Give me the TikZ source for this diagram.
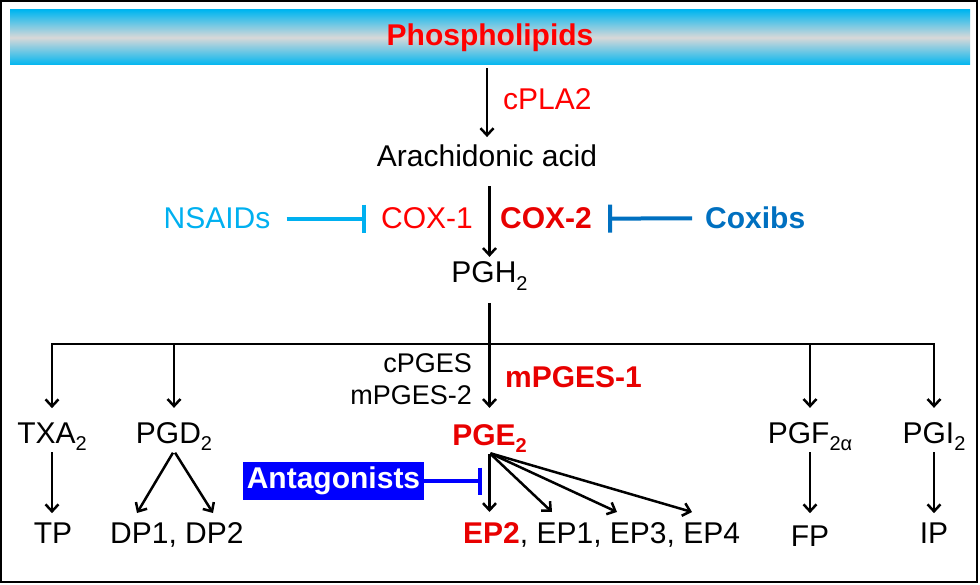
\documentclass[tikz,border=0pt]{standalone}
\usepackage{fontspec}
\setmainfont{Liberation Sans}
\usetikzlibrary{arrows.meta}
\definecolor{pred}{RGB}{255,0,0}
\definecolor{bred}{RGB}{232,0,0}
\definecolor{nsaidc}{RGB}{0,176,240}
\definecolor{coxc}{RGB}{0,112,192}
\definecolor{antc}{RGB}{0,0,255}
\definecolor{bannercyan}{RGB}{0,182,240}
\definecolor{bannergray}{RGB}{216,216,216}
\newcommand{\lowsub}[1]{\raisebox{-0.26em}{\fontsize{20}{20}\selectfont #1}}
\begin{document}
\begin{tikzpicture}[x=1pt,y=-1pt,
  lbl/.style={inner sep=0pt, font=\fontsize{30}{31}\selectfont},
  bl/.style={inner sep=0pt, font=\fontsize{30}{31}\selectfont\bfseries},
  sml/.style={inner sep=0pt, font=\fontsize{27}{28}\selectfont},
  arr/.style={line width=2.5pt, -{Straight Barb[length=7pt,width=13pt]}},
  plain/.style={line width=2.5pt},
  inh/.style={line width=4pt, -{Bar[width=28pt]}},
]
\useasboundingbox (0,0) rectangle (980,585);
\draw[line width=2pt] (1,1) rectangle (977,582);
\node[top color=bannercyan, bottom color=bannercyan, middle color=bannergray,
      minimum width=960pt, minimum height=55pt, inner sep=0pt, text=pred,
      font=\fontsize{30}{31}\selectfont\bfseries] (banner) at (490,37.5) {Phospholipids};

% top chain
\node[lbl, anchor=base west, text=pred] (cpla) at (503,110) {cPLA2};
\node[lbl, anchor=base] (aa) at (487,167) {Arachidonic acid};
\draw[arr, shorten <=3pt, shorten >=8pt] (banner.south -| aa.base) -- (aa.north);

\node[lbl, anchor=base] (pgh) at (489.5,283) {PGH\lowsub{2}};
\draw[arr, shorten <=19pt, shorten >=5pt] (aa.south -| pgh.north) -- (pgh.north);

\node[lbl, anchor=base east, text=pred] (cox1) at (473,229) {COX-1};
\node[bl, anchor=base west, text=bred] (cox2) at (500,229) {COX-2};
\node[lbl, anchor=base, text=nsaidc] (nsaid) at (217,229) {NSAIDs};
\node[bl, anchor=base west, text=coxc] (coxib) at (705,229) {Coxibs};
\draw[inh, draw=nsaidc, shorten <=16pt, shorten >=15pt] (nsaid.east) -- (cox1.west);
\draw[inh, draw=coxc, shorten <=13pt, shorten >=16pt] (coxib.west) -- (cox2.east);

% second level
\node[lbl, anchor=base] (txa) at (52,443) {TXA\lowsub{2}};
\node[lbl, anchor=base] (pgd) at (174,443) {PGD\lowsub{2}};
\node[bl, anchor=base, text=bred] (pge) at (489.5,445) {PGE\lowsub{2}};
\node[lbl, anchor=base] (pgf) at (810,443) {PGF\lowsub{2α}};
\node[lbl, anchor=base] (pgi) at (934,443) {PGI\lowsub{2}};

\coordinate (jn) at (489.5,344);
\draw[arr, shorten <=12pt, shorten >=16pt] (pgh.south) -- (pge.north);
\draw[arr, shorten >=14pt] (jn) -- (txa.north |- jn) -- (txa.north);
\draw[arr, shorten >=14pt] (jn) -- (pgi.north |- jn) -- (pgi.north);
\draw[arr, shorten >=14pt] (pgd.north |- jn) -- (pgd.north);
\draw[arr, shorten >=14pt] (pgf.north |- jn) -- (pgf.north);

\node[sml, anchor=base east] (cpges) at (472,372) {cPGES};
\node[sml, anchor=base east] (mpges2) at (472,404) {mPGES-2};
\node[bl, anchor=base west, text=bred] (mpges1) at (505,387) {mPGES-1};

% receptors
\node[lbl, anchor=base] (tp) at (53,543) {TP};
\node[lbl, anchor=base west] (dp) at (110,543) {DP1, DP2};
\node[lbl, anchor=base west] (ep) at (463,543) {\textbf{\textcolor{bred}{EP2}}, EP1, EP3, EP4};
\node[lbl, anchor=base] (fp) at (810,546) {FP};
\node[lbl, anchor=base] (ip) at (934,543) {IP};

\draw[arr, shorten <=1pt, shorten >=9pt] (txa.south) -- (txa.south |- tp.north);
\draw[arr, shorten <=1pt, shorten >=12pt] (pgf.south) -- (pgf.south |- fp.north);
\draw[arr, shorten <=1pt, shorten >=9pt] (pgi.south) -- (pgi.south |- ip.north);

\coordinate (dp1t) at (137,513);
\coordinate (dp2t) at (213,513);
\draw[arr, shorten <=2pt] (pgd.south) -- (dp1t);
\draw[arr, shorten <=2pt] (pgd.south) -- (dp2t);

\coordinate (ep2t) at (489.5,512);
\coordinate (ep1t) at (552,512);
\coordinate (ep3t) at (617,512);
\coordinate (ep4t) at (692,512);
\foreach \t in {ep2t,ep1t,ep3t,ep4t}
  \draw[arr, shorten <=1pt] (pge.south) -- (\t);

% antagonists
\node[fill=antc, text=white, minimum width=181pt, minimum height=38pt, inner sep=0pt,
      font=\fontsize{30}{31}\selectfont\bfseries] (ant) at (333.5,481) {Antagonists};
\coordinate (antb) at (482,481);
\draw[inh, draw=antc, line width=4.5pt, -{Bar[width=27pt]}] (ant.east) -- (antb);
\end{tikzpicture}
\end{document}
